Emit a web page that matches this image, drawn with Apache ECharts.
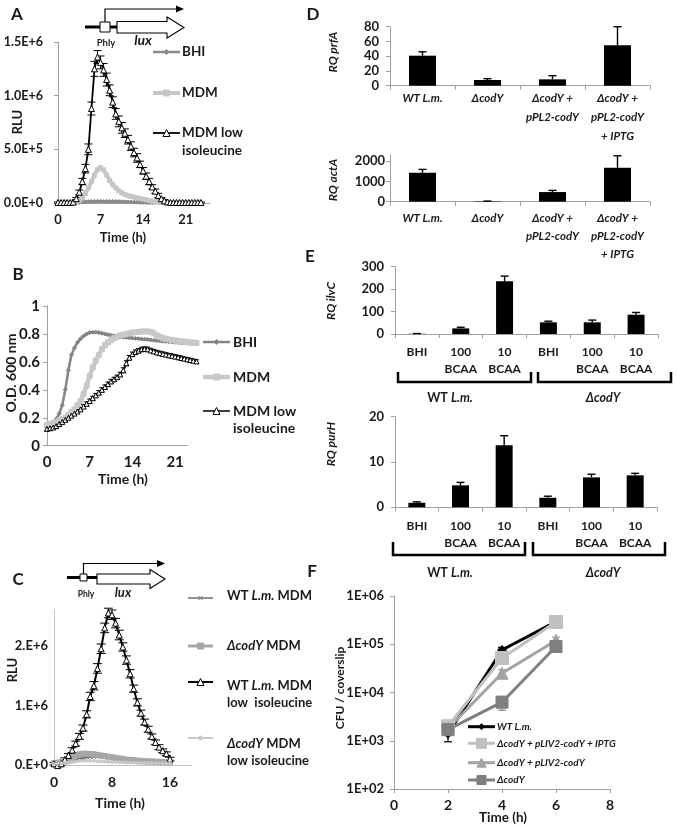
<!DOCTYPE html>
<html><head><meta charset="utf-8">
<script src="https://cdn.jsdelivr.net/npm/echarts@6/dist/echarts.min.js"></script>
<style>html,body{margin:0;padding:0;background:#fff}#c{width:677px;height:828px}</style>
</head><body><div id="c"></div>
<script>
// ---------- Panel A : RLU (millions) vs time (h)
const tA = [0,0.5,1,1.5,2,2.5,3,3.5,4,4.5,5,5.5,6,6.5,7,7.5,8,8.5,9,9.5,10,10.5,11,11.5,12,12.5,13,13.5,14,14.5,15,15.5,16,16.5,17,17.5,18,18.5,19,19.5,20,20.5,21,21.5,22,22.5,23,23.5];
const aBHI = [0.002,0.002,0.002,0.002,0.002,0.002,0.002,0.005,0.008,0.011,0.013,0.015,0.016,0.016,0.016,0.016,0.016,0.015,0.015,0.014,0.013,0.012,0.011,0.010,0.009,0.008,0.007,0.006,0.005,0.004,0.003,0.003,0.003,0.003,0.003,0.003,0.003,0.003,0.003,0.003,0.003,0.003,0.003,0.003,0.003,0.003,0.003,0.003];
const aMDM = [0.003,0.003,0.003,0.003,0.003,0.004,0.008,0.02,0.05,0.09,0.14,0.20,0.26,0.31,0.33,0.31,0.26,0.21,0.17,0.14,0.115,0.095,0.08,0.07,0.062,0.055,0.048,0.042,0.036,0.03,0.024,0.018,0.013,0.009,0.006,0.004,0.004,0.004,0.004,0.004,0.004,0.004,0.004,0.004,0.004,0.004,0.004,0.004];
const aLowIle = [0.005,0.005,0.005,0.005,0.005,0.008,0.04,0.10,0.20,0.32,0.50,0.88,1.25,1.36,1.31,1.24,1.15,1.05,0.94,0.83,0.76,0.70,0.65,0.59,0.53,0.47,0.42,0.36,0.30,0.25,0.20,0.15,0.11,0.07,0.04,0.02,0.01,0.005,0.005,0.005,0.005,0.005,0.005,0.005,0.005,0.005,0.005,0.005];
const aLowIleErr = [0.005,0.005,0.005,0.005,0.005,0.005,0.01,0.02,0.03,0.04,0.05,0.06,0.07,0.06,0.06,0.06,0.06,0.05,0.05,0.05,0.05,0.05,0.04,0.04,0.04,0.04,0.04,0.03,0.03,0.03,0.03,0.02,0.02,0.02,0.01,0.01,0.005,0.005,0.005,0.005,0.005,0.005,0.005,0.005,0.005,0.005,0.005,0.005];
const aTicks = [0,7,14,21];

// ---------- Panel B : O.D. 600 nm vs time (h)
const tB = [0,0.5,1,1.5,2,2.5,3,3.5,4,4.5,5,5.5,6,6.5,7,7.5,8,8.5,9,9.5,10,10.5,11,11.5,12,12.5,13,13.5,14,14.5,15,15.5,16,16.5,17,17.5,18,18.5,19,19.5,20,20.5,21,21.5,22,22.5,23,23.5,24,24.5];
const bBHI = [0.15,0.16,0.17,0.19,0.23,0.29,0.40,0.54,0.65,0.70,0.74,0.765,0.785,0.80,0.81,0.812,0.812,0.81,0.805,0.80,0.795,0.79,0.787,0.783,0.78,0.777,0.775,0.772,0.77,0.768,0.766,0.764,0.762,0.76,0.757,0.755,0.752,0.75,0.748,0.746,0.744,0.742,0.74,0.738,0.736,0.735,0.733,0.732,0.73,0.73];
const bMDM = [0.15,0.155,0.16,0.17,0.18,0.19,0.20,0.22,0.24,0.26,0.29,0.32,0.37,0.43,0.50,0.56,0.61,0.65,0.69,0.72,0.74,0.755,0.77,0.78,0.79,0.795,0.80,0.805,0.81,0.812,0.815,0.817,0.818,0.818,0.815,0.805,0.79,0.78,0.77,0.765,0.76,0.757,0.754,0.75,0.747,0.745,0.742,0.74,0.738,0.736];
const bLowIle = [0.12,0.125,0.13,0.14,0.155,0.17,0.185,0.20,0.215,0.23,0.245,0.26,0.28,0.30,0.32,0.34,0.36,0.38,0.40,0.42,0.44,0.46,0.475,0.49,0.51,0.54,0.59,0.63,0.655,0.67,0.68,0.69,0.692,0.69,0.682,0.675,0.668,0.662,0.657,0.652,0.647,0.643,0.638,0.633,0.628,0.623,0.618,0.613,0.608,0.603];
const bLowIleErr = [0.01,0.01,0.01,0.012,0.012,0.012,0.012,0.012,0.012,0.012,0.014,0.014,0.014,0.014,0.014,0.014,0.014,0.015,0.015,0.015,0.015,0.015,0.015,0.015,0.016,0.018,0.018,0.016,0.015,0.015,0.015,0.015,0.015,0.015,0.015,0.014,0.014,0.014,0.014,0.014,0.013,0.013,0.013,0.013,0.013,0.012,0.012,0.012,0.012,0.012];
const bTicks = [0,7,14,21];

// ---------- Panel C : RLU (millions) vs time (h)
const tC = [0,0.5,1,1.5,2,2.5,3,3.5,4,4.5,5,5.5,6,6.5,7,7.5,8,8.5,9,9.5,10,10.5,11,11.5,12,12.5,13,13.5,14,14.5,15,15.5,16];
const cWTmdm = [0.01,0.01,0.02,0.03,0.05,0.07,0.09,0.11,0.12,0.13,0.135,0.14,0.14,0.135,0.13,0.12,0.11,0.10,0.09,0.08,0.07,0.065,0.06,0.055,0.05,0.045,0.04,0.04,0.035,0.035,0.03,0.03,0.03];
const cCodYmdm = [0.03,0.04,0.05,0.07,0.10,0.13,0.16,0.18,0.19,0.19,0.185,0.18,0.17,0.16,0.15,0.14,0.13,0.12,0.11,0.10,0.09,0.085,0.08,0.075,0.07,0.065,0.06,0.06,0.055,0.055,0.05,0.05,0.05];
const cWTlow = [0.02,-0.01,0.02,0.09,0.16,0.25,0.36,0.48,0.62,0.85,1.15,1.33,1.62,1.95,2.30,2.55,2.52,2.38,2.18,1.98,1.76,1.53,1.28,1.05,0.87,0.72,0.60,0.48,0.38,0.30,0.24,0.19,0.10];
const cWTlowErr = [0.02,0.02,0.02,0.03,0.03,0.04,0.04,0.05,0.05,0.06,0.07,0.07,0.08,0.08,0.08,0.08,0.08,0.08,0.08,0.07,0.07,0.07,0.06,0.06,0.05,0.05,0.05,0.04,0.04,0.04,0.03,0.03,0.03];
const cCodYlow = [0.02,0.02,0.03,0.03,0.04,0.05,0.06,0.07,0.07,0.07,0.07,0.07,0.065,0.06,0.06,0.055,0.05,0.05,0.045,0.045,0.04,0.04,0.04,0.035,0.035,0.035,0.03,0.03,0.03,0.03,0.03,0.03,0.03];
const cXTicks = [0,8,16];
const cYTicks = [0,1,2];

// ---------- Panel D : RQ prfA / actA
const dCats = ['WT L.m.', 'ΔcodY', 'ΔcodY +\npPL2-codY', 'ΔcodY +\npPL2-codY\n+ IPTG'];
const prfA = [40.7, 7.7, 8.6, 54.8];
const prfAErr = [5.3, 1.8, 5.0, 25.2];
const actA = [1426, 20, 475, 1672];
const actAErr = [165, 10, 82, 590];
const actATicks = [0, 1000, 2000];

// ---------- Panel E : RQ ilvC / purH
const eCats = ['BHI', '100\nBCAA', '10\nBCAA', 'BHI', '100\nBCAA', '10\nBCAA'];
const ilvC = [1, 25, 235, 52, 52, 86];
const ilvCErr = [1, 5, 23, 5, 10, 10];
const purH = [1.0, 4.85, 13.7, 2.1, 6.6, 7.05];
const purHErr = [0.2, 0.65, 2.1, 0.35, 0.7, 0.45];

// ---------- Panel F : CFU / coverslip
const fT = [2, 4, 6];
const fWT = [1400, 76000, 295000];
const fIPTG = [2000, 52000, 290000];
const fPLIV = [1800, 25000, 120000];
const fCodY = [1700, 6300, 90000];
const fWTErr = [450, 10000, 30000];
const fIPTGErr = [300, 8000, 30000];
const fPLIVErr = [300, 5000, 20000];
const fCodYErr = [300, 2000, 15000];

// ================= drawing =================
const FONT = 'Lato, "Open Sans", sans-serif';
const TXT = '#1a1a1a';
const AX = '#a0a0a0';
const chart = echarts.init(document.getElementById('c'), null, {renderer: 'canvas'});

function lbl(size, extra) { return Object.assign({color: TXT, fontFamily: FONT, fontWeight: 'bold', fontSize: size}, extra || {}); }
function pairs(ts, vs) { return ts.map((t, i) => [t, vs[i]]); }
function fnt(size, italic) { return (italic ? 'italic ' : '') + 'bold ' + size + 'px ' + FONT; }

const grids = [
  {left: 58, top: 42, width: 152, height: 161},      // A
  {left: 47, top: 306, width: 140.3, height: 139.7},  // B
  {left: 54, top: 610, width: 137.7, height: 155},    // C
  {left: 390, top: 26.7, width: 260, height: 59},     // D1
  {left: 390, top: 155, width: 260, height: 46.7},    // D2
  {left: 395, top: 266.7, width: 263, height: 67.3},  // E1
  {left: 395, top: 416.7, width: 262, height: 90.6},  // E2
  {left: 394, top: 596, width: 216, height: 193}      // F
].map(g => Object.assign({outerBoundsMode: 'none', containLabel: false}, g));

const axLine = (c) => ({show: true, lineStyle: {color: c || AX, width: 1}});
const tickOut = (c) => ({show: true, length: 4, inside: false, lineStyle: {color: c || AX}});

const xAxis = [
  {gridIndex: 0, type: 'value', min: 0, max: 25, axisLine: axLine(), axisTick: {show: false}, splitLine: {show: false},
   axisLabel: lbl(13, {margin: 10, customValues: aTicks})},
  {gridIndex: 1, type: 'value', min: 0, max: 23, axisLine: axLine(), axisTick: {show: false}, splitLine: {show: false},
   axisLabel: lbl(15, {margin: 9, customValues: bTicks})},
  {gridIndex: 2, type: 'value', min: 0, max: 19, axisLine: axLine('#c4c4c4'), axisTick: {show: false}, splitLine: {show: false},
   axisLabel: lbl(14, {margin: 10, customValues: cXTicks})},
  {gridIndex: 3, type: 'category', data: dCats, axisLine: axLine(), axisTick: tickOut(), splitLine: {show: false},
   axisLabel: lbl(11.5, {fontStyle: 'italic', lineHeight: 19, margin: 3, interval: 0})},
  {gridIndex: 4, type: 'category', data: dCats, axisLine: axLine(), axisTick: tickOut(), splitLine: {show: false},
   axisLabel: lbl(11.5, {fontStyle: 'italic', lineHeight: 18, margin: 8, interval: 0})},
  {gridIndex: 5, type: 'category', data: eCats, axisLine: axLine(), axisTick: tickOut(), splitLine: {show: false},
   axisLabel: lbl(12, {lineHeight: 16.5, margin: 10, interval: 0})},
  {gridIndex: 6, type: 'category', data: eCats, axisLine: axLine(), axisTick: tickOut(), splitLine: {show: false},
   axisLabel: lbl(12, {lineHeight: 17, margin: 10, interval: 0})},
  {gridIndex: 7, type: 'value', min: 0, max: 8, interval: 2, axisLine: axLine(), axisTick: tickOut(), splitLine: {show: false},
   axisLabel: lbl(14, {margin: 9})}
];

const fmtA = v => { if (v === 0) return '0.0E+0'; const x = v * 1e6; const e = Math.floor(Math.log10(x) + 1e-9); return (x / Math.pow(10, e)).toFixed(1) + 'E+' + e; };
const fmtC = v => v === 0 ? '0.E+0' : v + '.E+6';
const fmtF = v => '1E+' + String(Math.round(Math.log10(v))).padStart(2, '0');

const yAxis = [
  {gridIndex: 0, type: 'value', min: 0, max: 1.5, interval: 0.5, axisLine: axLine(), axisTick: tickOut(), splitLine: {show: false},
   axisLabel: lbl(12.5, {margin: 15, formatter: fmtA})},
  {gridIndex: 1, type: 'value', min: 0, max: 1, interval: 0.2, axisLine: axLine(), axisTick: tickOut(), splitLine: {show: false},
   axisLabel: lbl(15, {margin: 7, formatter: v => String(Math.round(v * 10) / 10)})},
  {gridIndex: 2, type: 'value', min: 0, max: 2.6, axisLine: axLine('#c4c4c4'), axisTick: {show: false}, splitLine: {show: false},
   axisLabel: lbl(13, {margin: 6, customValues: cYTicks, formatter: fmtC})},
  {gridIndex: 3, type: 'value', min: 0, max: 80, interval: 20, axisLine: axLine(), axisTick: tickOut(), splitLine: {show: false},
   axisLabel: lbl(13, {margin: 11})},
  {gridIndex: 4, type: 'value', min: 0, max: 2300, axisLine: axLine(), axisTick: Object.assign(tickOut(), {customValues: actATicks}), splitLine: {show: false},
   axisLabel: lbl(13, {margin: 5, customValues: actATicks, formatter: v => String(v)})},
  {gridIndex: 5, type: 'value', min: 0, max: 300, interval: 100, axisLine: axLine(), axisTick: tickOut(), splitLine: {show: false},
   axisLabel: lbl(13, {margin: 11})},
  {gridIndex: 6, type: 'value', min: 0, max: 20, interval: 10, axisLine: axLine(), axisTick: tickOut(), splitLine: {show: false},
   axisLabel: lbl(13, {margin: 11})},
  {gridIndex: 7, type: 'log', logBase: 10, min: 100, max: 1e6, axisLine: axLine(), axisTick: tickOut(), splitLine: {show: false},
   minorTick: {show: false}, axisLabel: lbl(13, {margin: 10, formatter: fmtF})}
];

function line(gi, ts, vs, color, lw, symbol, size, fill, extra) {
  return Object.assign({
    type: 'line', xAxisIndex: gi, yAxisIndex: gi, data: pairs(ts, vs), showAllSymbol: true,
    symbol: symbol, symbolSize: size, lineStyle: {color: color, width: lw}, smooth: false,
    itemStyle: {color: fill || color, borderColor: color, borderWidth: 1}, animation: false, silent: true
  }, extra || {});
}

// symmetric error bars along a line series
function lineErr(gi, ts, vals, errs, color, cap, lw) {
  return {
    type: 'custom', xAxisIndex: gi, yAxisIndex: gi, silent: true, animation: false, clip: false,
    data: ts.map((t, i) => [t, vals[i], errs[i]]),
    renderItem: (p, api) => {
      const t = api.value(0), v = api.value(1), e = api.value(2);
      const a = api.coord([t, v - e]), b = api.coord([t, v + e]);
      const st = {stroke: color, lineWidth: lw || 1};
      return {type: 'group', children: [
        {type: 'line', shape: {x1: a[0], y1: a[1], x2: b[0], y2: b[1]}, style: st},
        {type: 'line', shape: {x1: a[0] - cap, y1: a[1], x2: a[0] + cap, y2: a[1]}, style: st},
        {type: 'line', shape: {x1: b[0] - cap, y1: b[1], x2: b[0] + cap, y2: b[1]}, style: st}
      ]};
    }
  };
}

function barErr(gi, vals, errs) {
  return {
    type: 'custom', xAxisIndex: gi, yAxisIndex: gi, z: 5, silent: true, animation: false,
    data: vals.map((v, i) => [i, v, errs[i]]),
    renderItem: (p, api) => {
      const i = api.value(0), v = api.value(1), e = api.value(2);
      const a = api.coord([i, v]), b = api.coord([i, v + e]);
      const st = {stroke: '#000', lineWidth: 1.4};
      return {type: 'group', children: [
        {type: 'line', shape: {x1: a[0], y1: a[1], x2: b[0], y2: b[1]}, style: st},
        {type: 'line', shape: {x1: b[0] - 4, y1: b[1], x2: b[0] + 4, y2: b[1]}, style: st}
      ]};
    }
  };
}

function fErr(ts, vals, errs, color) {
  return {
    type: 'custom', xAxisIndex: 7, yAxisIndex: 7, silent: true, animation: false,
    data: ts.map((t, i) => [t, vals[i], errs[i]]),
    renderItem: (p, api) => {
      const t = api.value(0), v = api.value(1), e = api.value(2);
      const a = api.coord([t, Math.max(v - e, 1)]), b = api.coord([t, v + e]);
      const st = {stroke: color, lineWidth: 1.2};
      return {type: 'group', children: [
        {type: 'line', shape: {x1: a[0], y1: a[1], x2: b[0], y2: b[1]}, style: st},
        {type: 'line', shape: {x1: a[0] - 4, y1: a[1], x2: a[0] + 4, y2: a[1]}, style: st},
        {type: 'line', shape: {x1: b[0] - 4, y1: b[1], x2: b[0] + 4, y2: b[1]}, style: st}
      ]};
    }
  };
}

const xPath = 'path://M0,0L10,10M10,0L0,10';

const series = [
  // A
  line(0, tA, aBHI, '#8a8a8a', 2.5, 'diamond', 4),
  line(0, tA, aMDM, '#c6c6c6', 4, 'rect', 4),
  lineErr(0, tA, aLowIle, aLowIleErr, '#000', 4, 1),
  line(0, tA, aLowIle, '#000', 1.8, 'triangle', 6, '#fff'),
  // B
  line(1, tB, bBHI, '#858585', 2.5, 'diamond', 4, null, {clip: false}),
  line(1, tB, bMDM, '#c8c8c8', 4.5, 'rect', 5, null, {clip: false}),
  lineErr(1, tB, bLowIle, bLowIleErr, '#000', 2.5, 1),
  line(1, tB, bLowIle, '#000', 1.5, 'triangle', 5, '#fff', {clip: false}),
  // C
  line(2, tC, cWTmdm, '#6e6e6e', 1.5, xPath, 4),
  line(2, tC, cCodYmdm, '#a6a6a6', 3, 'rect', 5),
  lineErr(2, tC, cWTlow, cWTlowErr, '#000', 4.5, 1),
  line(2, tC, cWTlow, '#000', 2, 'triangle', 6, '#fff', {clip: false}),
  line(2, tC, cCodYlow, '#c8c8c8', 2, 'circle', 3),
  // D
  {type: 'bar', xAxisIndex: 3, yAxisIndex: 3, data: prfA, barWidth: 27, itemStyle: {color: '#000'}, animation: false, silent: true},
  barErr(3, prfA, prfAErr),
  {type: 'bar', xAxisIndex: 4, yAxisIndex: 4, data: actA, barWidth: 27, itemStyle: {color: '#000'}, animation: false, silent: true},
  barErr(4, actA, actAErr),
  // E
  {type: 'bar', xAxisIndex: 5, yAxisIndex: 5, data: ilvC, barWidth: 17, itemStyle: {color: '#000'}, animation: false, silent: true},
  barErr(5, ilvC, ilvCErr),
  {type: 'bar', xAxisIndex: 6, yAxisIndex: 6, data: purH, barWidth: 17, itemStyle: {color: '#000'}, animation: false, silent: true},
  barErr(6, purH, purHErr),
  // F
  line(7, fT, fWT, '#000', 3, 'diamond', 9),
  fErr(fT, fWT, fWTErr, '#000'),
  line(7, fT, fIPTG, '#c0c0c0', 3, 'rect', 13),
  fErr(fT, fIPTG, fIPTGErr, '#c0c0c0'),
  line(7, fT, fPLIV, '#a3a3a3', 3, 'triangle', 12),
  fErr(fT, fPLIV, fPLIVErr, '#a3a3a3'),
  line(7, fT, fCodY, '#7f7f7f', 3, 'rect', 12),
  fErr(fT, fCodY, fCodYErr, '#7f7f7f')
];

// ---------- graphic helpers (legends, labels, diagrams)
function txt(x, y, text, size, opts) {
  opts = opts || {};
  return {type: 'text', x: x, y: y, rotation: opts.rot || 0, silent: true,
    style: Object.assign({text: text, fill: TXT, font: fnt(size, opts.italic), align: opts.align || 'left', verticalAlign: 'middle', lineHeight: opts.lh || size * 1.3}, opts.rich ? {rich: opts.rich} : {})};
}
function richDefs(size) {
  return {b: {font: fnt(size, false), fill: TXT}, i: {font: fnt(size, true), fill: TXT}};
}
function marker(cx, cy, sym, s, color, fill) {
  const st = {fill: fill || color, stroke: color, lineWidth: 1};
  if (sym === 'rect') return [{type: 'rect', shape: {x: cx - s / 2, y: cy - s / 2, width: s, height: s}, style: st}];
  if (sym === 'triangle') return [{type: 'polygon', shape: {points: [[cx, cy - s / 2], [cx + s / 2, cy + s / 2], [cx - s / 2, cy + s / 2]]}, style: st}];
  if (sym === 'diamond') return [{type: 'polygon', shape: {points: [[cx, cy - s / 2], [cx + s / 2, cy], [cx, cy + s / 2], [cx - s / 2, cy]]}, style: st}];
  if (sym === 'circle') return [{type: 'circle', shape: {cx: cx, cy: cy, r: s / 2}, style: st}];
  if (sym === 'x') return [
    {type: 'line', shape: {x1: cx - s / 2, y1: cy - s / 2, x2: cx + s / 2, y2: cy + s / 2}, style: {stroke: color, lineWidth: 1}},
    {type: 'line', shape: {x1: cx - s / 2, y1: cy + s / 2, x2: cx + s / 2, y2: cy - s / 2}, style: {stroke: color, lineWidth: 1}}];
  return [];
}
function legLine(x1, x2, y, color, lw, sym, s, fill) {
  return [{type: 'line', shape: {x1: x1, y1: y, x2: x2, y2: y}, style: {stroke: color, lineWidth: lw}}]
    .concat(marker((x1 + x2) / 2, y, sym, s, color, fill));
}
function bracket(x1, x2, yTop, yBot) {
  return {type: 'polyline', shape: {points: [[x1, yTop], [x1, yBot], [x2, yBot], [x2, yTop]]}, style: {stroke: '#000', lineWidth: 2.5, fill: null}};
}
function promoter(o) {
  return [
    {type: 'line', shape: {x1: o.x0, y1: o.y, x2: o.lineEnd, y2: o.y}, style: {stroke: '#000', lineWidth: 3}},
    {type: 'polyline', shape: {points: [[o.boxX + o.box / 2, o.boxY], [o.boxX + o.box / 2, o.topY], [o.tipX - 6, o.topY]]}, style: {stroke: '#000', lineWidth: 1.2, fill: null}},
    {type: 'polygon', shape: {points: [[o.tipX - 8, o.topY - 3.5], [o.tipX, o.topY], [o.tipX - 8, o.topY + 3.5]]}, style: {fill: '#000'}},
    {type: 'rect', shape: {x: o.boxX, y: o.boxY, width: o.box, height: o.box}, style: {fill: '#fff', stroke: '#000', lineWidth: 1}},
    {type: 'polygon', shape: {points: [[o.lineEnd, o.bodyTop], [o.headX, o.bodyTop], [o.headX, o.headTop], [o.tipX, (o.headTop + o.headBot) / 2], [o.headX, o.headBot], [o.headX, o.bodyBot], [o.lineEnd, o.bodyBot]]},
     style: {fill: '#fff', stroke: '#000', lineWidth: 1.1}}
  ];
}

let g = [];
[['A', 17, 15], ['B', 18, 275], ['C', 18, 580], ['D', 313, 15], ['E', 310, 257], ['F', 312, 572]].forEach(a => g.push(txt(a[1], a[2], a[0], 17, {align: 'center'})));

// Panel A
g = g.concat(promoter({x0: 85, lineEnd: 117, y: 27, box: 10, boxX: 100, boxY: 22, topY: 9, tipX: 184, bodyTop: 21.5, bodyBot: 33, headX: 167, headTop: 17, headBot: 38}));
g.push(txt(106, 43, 'Phly', 9.5, {align: 'center'}));
g.push(txt(143, 40, 'lux', 14, {align: 'center', italic: true}));
g.push(txt(18, 122, 'RLU', 13, {align: 'center', rot: Math.PI / 2}));
g.push(txt(123, 238, 'Time (h)', 13, {align: 'center'}));
g = g.concat(legLine(153, 180, 52, '#8a8a8a', 2.5, 'diamond', 5));
g.push(txt(182, 52, 'BHI', 13.5));
g = g.concat(legLine(153, 180, 93, '#c6c6c6', 4, 'rect', 6));
g.push(txt(182, 93, 'MDM', 13.5));
g = g.concat(legLine(153, 180, 133, '#000', 1.8, 'triangle', 7, '#fff'));
g.push(txt(182, 133, 'MDM low', 13.5));
g.push(txt(182, 151, 'isoleucine', 13.5));

// Panel B
g.push(txt(11, 373, 'O.D. 600 nm', 14, {align: 'center', rot: Math.PI / 2}));
g.push(txt(123, 479, 'Time (h)', 14, {align: 'center'}));
g = g.concat(legLine(203, 230, 342, '#858585', 2.5, 'diamond', 5));
g.push(txt(233, 342, 'BHI', 14));
g = g.concat(legLine(203, 230, 377, '#c8c8c8', 4.5, 'rect', 6));
g.push(txt(233, 377, 'MDM', 14));
g = g.concat(legLine(203, 230, 411, '#000', 1.5, 'triangle', 7, '#fff'));
g.push(txt(233, 411, 'MDM low', 14));
g.push(txt(233, 428, 'isoleucine', 14));

// Panel C
g = g.concat(promoter({x0: 67, lineEnd: 97, y: 577.5, box: 7, boxX: 80, boxY: 574, topY: 563.5, tipX: 165, bodyTop: 574, bodyBot: 584, headX: 150, headTop: 569.5, headBot: 588.5}));
g.push(txt(86, 594, 'Phly', 8.5, {align: 'center'}));
g.push(txt(123, 593, 'lux', 13, {align: 'center', italic: true}));
g.push(txt(13, 670, 'RLU', 13, {align: 'center', rot: Math.PI / 2}));
g.push(txt(120, 803, 'Time (h)', 14, {align: 'center'}));
const rc = richDefs(13);
g = g.concat(legLine(188, 213, 598, '#6e6e6e', 1.5, 'x', 4));
g.push(txt(227, 596, '{b|WT }{i|L.m.}{b| MDM}', 13, {rich: rc}));
g = g.concat(legLine(188, 213, 646, '#a6a6a6', 3, 'rect', 6));
g.push(txt(227, 646, '{i|ΔcodY}{b| MDM}', 13, {rich: rc}));
g = g.concat(legLine(188, 213, 682, '#000', 2, 'triangle', 7, '#fff'));
g.push(txt(227, 686, '{b|WT }{i|L.m.}{b| MDM}', 13, {rich: rc}));
g.push(txt(227, 703, 'low  isoleucine', 13));
g = g.concat(legLine(188, 213, 738, '#c8c8c8', 2, 'circle', 4));
g.push(txt(227, 744, '{i|ΔcodY}{b| MDM}', 13, {rich: rc}));
g.push(txt(227, 761, 'low isoleucine', 13));

// Panel D
g.push(txt(333, 52, 'RQ prfA', 12, {align: 'center', rot: Math.PI / 2, italic: true}));
g.push(txt(333, 180, 'RQ actA', 12, {align: 'center', rot: Math.PI / 2, italic: true}));

// Panel E
g.push(txt(331, 301, 'RQ ilvC', 12, {align: 'center', rot: Math.PI / 2, italic: true}));
g.push(txt(331, 444, 'RQ purH', 12, {align: 'center', rot: Math.PI / 2, italic: true}));
const re = richDefs(12.5);
g.push(bracket(398, 531, 372, 382));
g.push(bracket(538, 671, 372, 382));
g.push(txt(450, 398, '{b|WT }{i|L.m.}', 12.5, {align: 'center', rich: re}));
g.push(txt(603, 398, 'ΔcodY', 12.5, {align: 'center', italic: true}));
g.push(bracket(393, 525, 542, 555));
g.push(bracket(533, 665, 542, 555));
g.push(txt(450, 573, '{b|WT }{i|L.m.}', 12.5, {align: 'center', rich: re}));
g.push(txt(603, 573, 'ΔcodY', 12.5, {align: 'center', italic: true}));

// Panel F
g.push(txt(340, 688, 'CFU / coverslip', 12, {align: 'center', rot: Math.PI / 2}));
g.push(txt(503, 818, 'Time (h)', 13.5, {align: 'center'}));
g = g.concat(legLine(468, 495, 726.7, '#000', 3, 'diamond', 6));
g.push(txt(497, 726.7, 'WT L.m.', 10, {italic: true}));
g = g.concat(legLine(468, 495, 743.3, '#c0c0c0', 3, 'rect', 10));
g.push(txt(497, 743.3, 'ΔcodY + pLIV2-codY + IPTG', 10, {italic: true}));
g = g.concat(legLine(468, 495, 762.7, '#a3a3a3', 3, 'triangle', 9));
g.push(txt(497, 762.7, 'ΔcodY + pLIV2-codY', 10, {italic: true}));
g = g.concat(legLine(468, 495, 780, '#7f7f7f', 3, 'rect', 9));
g.push(txt(497, 780, 'ΔcodY', 10, {italic: true}));

chart.setOption({
  animation: false,
  backgroundColor: '#fff',
  grid: grids,
  xAxis: xAxis,
  yAxis: yAxis,
  series: series,
  graphic: {elements: g}
});
</script>
</body></html>
